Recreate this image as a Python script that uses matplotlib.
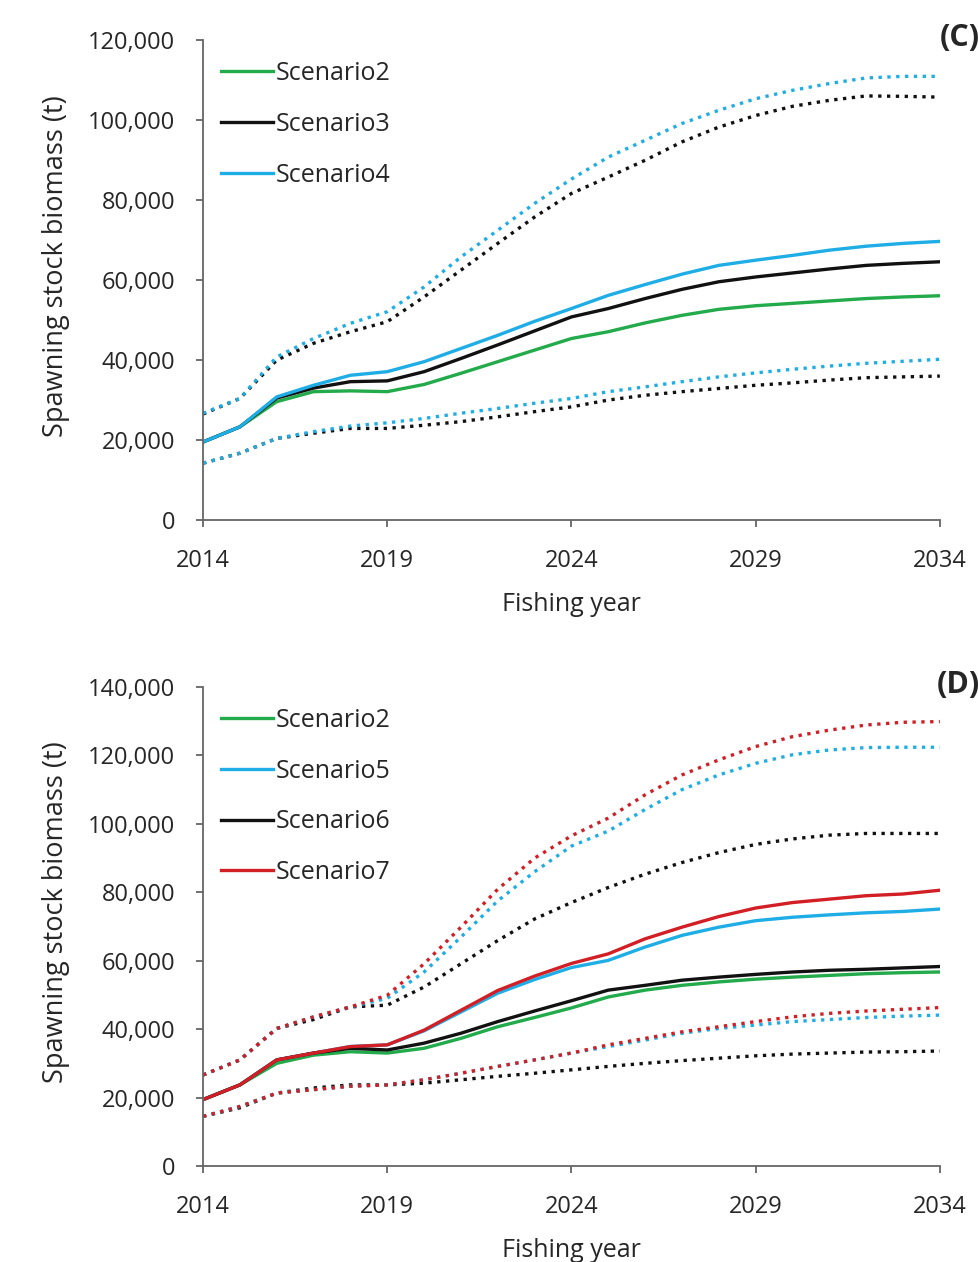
import matplotlib.pyplot as plt
from matplotlib.ticker import FuncFormatter

plt.rcParams['font.family'] = ['Open Sans', 'DejaVu Sans']

years = list(range(2014, 2035))

# ---- panel C ----
c_s2 = [19500, 23300, 29600, 32100, 32300, 32100, 33900, 36700, 39600, 42500, 45400,
        47100, 49300, 51200, 52700, 53600, 54200, 54800, 55400, 55800, 56100]
c_s3 = [19500, 23300, 30500, 33000, 34600, 34800, 37100, 40400, 43800, 47300, 50800,
        52900, 55400, 57700, 59600, 60800, 61800, 62800, 63700, 64200, 64600]
c_s4 = [19500, 23300, 30800, 33700, 36200, 37100, 39600, 42900, 46200, 49700, 52900,
        56200, 58900, 61500, 63700, 65000, 66200, 67500, 68500, 69200, 69700]
c_s3_hi = [26500, 30400, 40000, 44200, 47100, 49600, 55800, 62500, 69200, 75800, 81700,
           85800, 90000, 94600, 98300, 101200, 103500, 105000, 106100, 106000, 105800]
c_s4_hi = [26700, 30400, 40800, 45400, 49200, 52100, 58300, 65800, 72500, 79200, 85300,
           90800, 95000, 99200, 102500, 105400, 107500, 109200, 110600, 111000, 111000]
c_s3_lo = [14200, 16700, 20400, 21700, 22900, 22900, 23700, 24600, 25800, 27100, 28300,
           30000, 31200, 32100, 32900, 33700, 34300, 35000, 35600, 35800, 36000]
c_s4_lo = [14200, 16700, 20400, 22100, 23500, 24300, 25400, 26700, 27900, 29200, 30400,
           32100, 33300, 34600, 35800, 36800, 37700, 38500, 39200, 39700, 40200]

# ---- panel D ----
d_s2 = [19400, 23700, 30000, 32400, 33400, 33000, 34400, 37300, 40700, 43400, 46200,
        49400, 51400, 52800, 53800, 54600, 55200, 55700, 56200, 56500, 56700]
d_s5 = [19400, 23700, 31000, 33000, 34900, 35400, 39500, 45000, 50500, 54500, 58000,
        60100, 64000, 67400, 69800, 71700, 72700, 73400, 74000, 74400, 75100]
d_s6 = [19400, 23700, 31000, 33000, 34400, 33900, 35900, 38800, 42200, 45300, 48300,
        51400, 52800, 54300, 55200, 56000, 56700, 57200, 57500, 57900, 58300]
d_s7 = [19400, 23700, 31000, 33000, 34900, 35400, 39700, 45500, 51300, 55500, 59200,
        62000, 66400, 69800, 72900, 75400, 77000, 78000, 79000, 79500, 80600]
d_s5_hi = [26600, 31000, 40200, 43600, 46500, 49000, 56700, 66900, 77500, 86000, 93500,
           97900, 104200, 110000, 114300, 117700, 120200, 121600, 122300, 122400, 122400]
d_s6_hi = [26600, 31000, 40200, 42800, 46500, 47000, 52300, 59100, 65900, 72200, 77000,
           81400, 85300, 88700, 91600, 94000, 95600, 96700, 97200, 97200, 97200]
d_s7_hi = [26600, 31000, 40200, 43600, 46500, 49900, 59100, 69800, 80900, 90000, 96500,
           101700, 108500, 114300, 118700, 122600, 125500, 127400, 128900, 129700, 129900]
d_s5_lo = [14500, 17400, 21300, 22300, 23300, 23700, 25200, 27100, 29100, 31000, 33000,
           34900, 36800, 38800, 40200, 41200, 42200, 42800, 43400, 43800, 44100]
d_s6_lo = [14500, 17000, 21300, 22800, 23700, 23700, 24200, 25200, 26200, 27100, 28100,
           29100, 30000, 30800, 31500, 32200, 32700, 33000, 33300, 33400, 33600]
d_s7_lo = [14500, 17400, 21300, 22300, 23300, 23700, 25200, 27100, 29100, 31000, 33000,
           35400, 37300, 39200, 40700, 42200, 43600, 44600, 45300, 45800, 46300]

green = '#22aa4b'
blue = '#1fade6'
black = '#111111'
red = '#d21f26'
axis_col = '#666666'
text_col = '#262626'

fig = plt.figure(figsize=(9.79, 12.62), dpi=100)
axC = fig.add_axes([0.2074, 0.588, 0.7526, 0.380])
axD = fig.add_axes([0.2074, 0.0761, 0.7526, 0.3795])

fmt = FuncFormatter(lambda v, p: '{:,.0f}'.format(v))


def style(ax, ymax, ystep, label):
    ax.set_xlim(2014, 2034)
    ax.set_ylim(0, ymax)
    ax.set_xticks([2014, 2019, 2024, 2029, 2034])
    ax.set_yticks(range(0, ymax + 1, ystep))
    ax.yaxis.set_major_formatter(fmt)
    for s in ['top', 'right']:
        ax.spines[s].set_visible(False)
    for s in ['left', 'bottom']:
        ax.spines[s].set_color(axis_col)
        ax.spines[s].set_linewidth(1.3)
    ax.tick_params(axis='both', labelsize=17, color=axis_col, length=5, width=1.3,
                   labelcolor=text_col)
    ax.tick_params(axis='x', pad=16)
    ax.tick_params(axis='y', pad=15)
    ax.set_xlabel('Fishing year', fontsize=18, color=text_col)
    ax.set_ylabel('Spawning stock biomass (t)', fontsize=19.5, color=text_col)
    ax.xaxis.set_label_coords(0.5, -0.15)
    ax.yaxis.set_label_coords(-0.18, 0.53)
    ax.text(1.055, 1.005, label, transform=ax.transAxes, fontsize=22, fontweight='bold',
            ha='right', va='center', color=text_col)
    ax.legend(loc='upper left', bbox_to_anchor=(0.0, 0.993), frameon=False, fontsize=18,
              handlelength=2.1, handletextpad=0.1, labelspacing=1.03, borderaxespad=0.3,
              labelcolor=text_col)


lw = 2.4
dl = 2.4
axC.plot(years, c_s3_hi, ':', color=black, lw=dl)
axC.plot(years, c_s4_hi, ':', color=blue, lw=dl)
axC.plot(years, c_s3_lo, ':', color=black, lw=dl)
axC.plot(years, c_s4_lo, ':', color=blue, lw=dl)
axC.plot(years, c_s2, color=green, lw=lw, label='Scenario2')
axC.plot(years, c_s3, color=black, lw=lw, label='Scenario3')
axC.plot(years, c_s4, color=blue, lw=lw, label='Scenario4')
style(axC, 120000, 20000, '(C)')

axD.plot(years, d_s6_hi, ':', color=black, lw=dl)
axD.plot(years, d_s5_hi, ':', color=blue, lw=dl)
axD.plot(years, d_s7_hi, ':', color=red, lw=dl)
axD.plot(years, d_s6_lo, ':', color=black, lw=dl)
axD.plot(years, d_s5_lo, ':', color=blue, lw=dl)
axD.plot(years, d_s7_lo, ':', color=red, lw=dl)
axD.plot(years, d_s2, color=green, lw=lw, label='Scenario2')
axD.plot(years, d_s5, color=blue, lw=lw, label='Scenario5')
axD.plot(years, d_s6, color=black, lw=lw, label='Scenario6')
axD.plot(years, d_s7, color=red, lw=lw, label='Scenario7')
style(axD, 140000, 20000, '(D)')

fig.savefig('out.png', dpi=100)
